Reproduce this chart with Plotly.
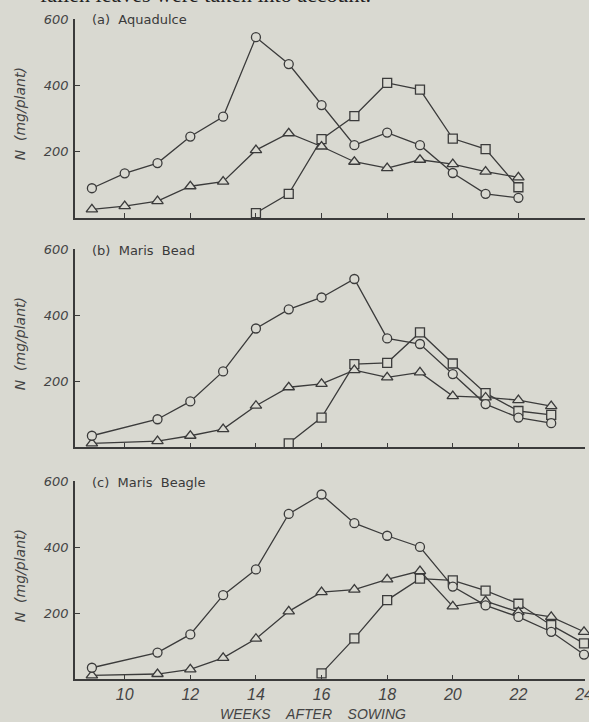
import plotly.graph_objects as go

# ---------------- data ----------------
weeks_a = [9, 10, 11, 12, 13, 14, 15, 16, 17, 18, 19, 20, 21, 22]
a_circle = [89, 134, 165, 245, 305, 545, 464, 340, 219, 257, 219, 135, 72, 60]
a_triangle = [25, 35, 50, 95, 109, 204, 255, 215, 169, 150, 175, 162, 139, 122]
weeks_a_sq = [14, 15, 16, 17, 18, 19, 20, 21, 22]
a_square = [14, 72, 237, 307, 407, 387, 239, 207, 92]

weeks_b = [9, 11, 12, 13, 14, 15, 16, 17, 18, 19, 20, 21, 22, 23]
b_circle = [35, 85, 139, 230, 360, 418, 454, 510, 330, 313, 222, 131, 90, 73]
b_triangle = [12, 19, 35, 55, 126, 182, 192, 234, 212, 227, 155, 151, 143, 125]
weeks_b_sq = [15, 16, 17, 18, 19, 20, 21, 22, 23]
b_square = [12, 90, 252, 256, 348, 254, 164, 110, 98]

weeks_c = [9, 11, 12, 13, 14, 15, 16, 17, 18, 19, 20, 21, 22, 23, 24]
c_circle = [35, 81, 136, 255, 333, 501, 560, 473, 435, 401, 281, 224, 189, 144, 75]
c_triangle = [12, 16, 30, 65, 123, 206, 264, 272, 303, 328, 221, 237, 204, 189, 144]
weeks_c_sq = [16, 17, 18, 19, 20, 21, 22, 23, 24]
c_square = [18, 124, 240, 305, 300, 269, 229, 164, 109]

panel_titles = ["(a)\u00a0\u00a0Aquadulce", "(b)\u00a0\u00a0Maris\u00a0\u00a0Bead", "(c)\u00a0\u00a0Maris\u00a0\u00a0Beagle"]
x_ticks = [10, 12, 14, 16, 18, 20, 22, 24]
y_ticks = [200, 400, 600]

# ---------------- style ----------------
W, H = 589, 722
BG = "#d9d9d1"
INK = "#3b3b3b"

def px_y(p):
    return 1 - p / H

# pixel positions (top, bottom) of each panel's y axis (600 .. 0)
panels_px = [(19, 217.7), (249.3, 447.3), (481.3, 679.3)]
x_dom = [75 / W, 585 / W]

fig = go.Figure()

series = [
    (weeks_a, a_circle, a_triangle, weeks_a_sq, a_square),
    (weeks_b, b_circle, b_triangle, weeks_b_sq, b_square),
    (weeks_c, c_circle, c_triangle, weeks_c_sq, c_square),
]

for i, (wk, circ, tri, wks, sq) in enumerate(series):
    xa = "x" if i == 0 else f"x{i+1}"
    ya = "y" if i == 0 else f"y{i+1}"
    for xs, ys, sym, size in [(wks, sq, "square", 9), (wk, tri, "triangle-up", 10), (wk, circ, "circle", 9)]:
        fig.add_trace(go.Scatter(
            x=xs, y=ys, mode="lines+markers", xaxis=xa, yaxis=ya,
            line=dict(color=INK, width=1.3),
            marker=dict(symbol=sym, size=size, color=BG, line=dict(color=INK, width=1.3)),
            cliponaxis=False, showlegend=False, hoverinfo="skip",
        ))

layout = dict(
    width=W, height=H,
    margin=dict(l=0, r=0, t=0, b=0, autoexpand=False),
    paper_bgcolor=BG, plot_bgcolor=BG,
    showlegend=False,
)

annotations = []
for i, (top, bot) in enumerate(panels_px):
    sfx = "" if i == 0 else str(i + 1)
    ysfx = "y" if i == 0 else f"y{i+1}"
    layout["xaxis" + sfx] = dict(
        domain=x_dom, range=[8.485, 24.03], anchor=ysfx,
        showline=True, linecolor=INK, linewidth=1.5,
        ticks="inside", ticklen=5, tickwidth=1.3, tickcolor=INK,
        tickvals=x_ticks, showticklabels=(i == 2),
        ticklabelstandoff=0, ticklabeloverflow="allow", automargin=False,
        tickfont=dict(family="Liberation Sans", size=16, color="#444", style="italic"),
        showgrid=False, zeroline=False, fixedrange=True,
    )
    layout["yaxis" + sfx] = dict(
        domain=[px_y(bot), px_y(top)], range=[0, 600], anchor=("x" if i == 0 else f"x{i+1}"),
        showline=True, linecolor=INK, linewidth=1.5,
        ticks="inside", ticklen=5, tickwidth=1.3, tickcolor=INK,
        tickvals=y_ticks, ticklabelstandoff=2, automargin=False,
        tickfont=dict(family="DejaVu Sans", size=13, color="#444", style="italic"),
        showgrid=False, zeroline=False, fixedrange=True,
    )
    annotations.append(dict(
        text=panel_titles[i], x=90 / W, y=px_y(top + 1), xref="paper", yref="paper",
        xanchor="left", yanchor="middle", showarrow=False,
        font=dict(family="DejaVu Sans", size=13, color="#3a3a3a"),
    ))
    annotations.append(dict(
        text="N\u00a0\u00a0(mg/plant)", x=20 / W, y=px_y((top + bot) / 2 - 4), xref="paper", yref="paper",
        xanchor="center", yanchor="middle", showarrow=False, textangle=-90,
        font=dict(family="DejaVu Sans", size=14, color="#444", style="italic"),
    ))

annotations.append(dict(
    text="WEEKS\u00a0\u00a0\u00a0\u00a0AFTER\u00a0\u00a0\u00a0\u00a0SOWING", x=313 / W, y=px_y(714),
    xref="paper", yref="paper", xanchor="center", yanchor="middle", showarrow=False,
    font=dict(family="Liberation Sans", size=14, color="#444", style="italic"),
))
annotations.append(dict(
    text="fallen leaves were taken into account.", x=38 / W, y=px_y(-6),
    xref="paper", yref="paper", xanchor="left", yanchor="middle", showarrow=False,
    font=dict(family="Liberation Serif", size=22, color="#222"),
))

layout["annotations"] = annotations
fig.update_layout(**layout)
fig.write_html("out.html")
